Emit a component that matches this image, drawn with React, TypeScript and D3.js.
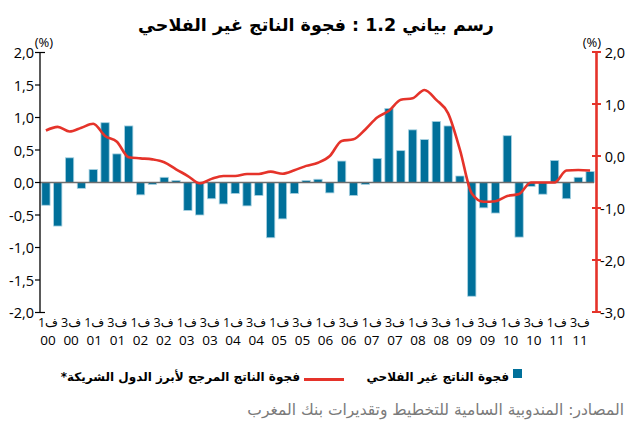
import React from 'react'
import * as d3 from 'd3'

// quarters 2000 Q1 .. 2011 Q3
const years = ['00', '01', '02', '03', '04', '05', '06', '07', '08', '09', '10', '11']
const quarterNames = ['1', '2', '3', '4']
const quarters = years.flatMap(y => quarterNames.map(q => `${y}-${q}`)).slice(0, 47)

// axis labels under the bars (every other quarter)
const tickQuarters = ['ف1', 'ف3']
const tickLabels = years.flatMap(y => tickQuarters.map(q => ({ q, y })))

// non-agricultural output gap (left axis, bars)
const gapValues = [
  -0.35, -0.67, 0.38, -0.09, 0.20, 0.92, 0.44, 0.87,
  -0.19, -0.03, 0.08, 0.03, -0.43, -0.50, -0.25, -0.33,
  -0.17, -0.36, -0.20, -0.85, -0.56, -0.17, 0.03, 0.05,
  -0.16, 0.33, -0.20, -0.03, 0.37, 1.14, 0.49, 0.81,
  0.66, 0.94, 0.87, 0.10, -1.75, -0.39, -0.47, 0.72,
  -0.84, -0.06, -0.18, 0.34, -0.25, 0.08, 0.17,
]

// weighted output gap of main partners (right axis, red line)
const partnerGap = [
  0.49, 0.56, 0.47, 0.545, 0.62, 0.385, 0.275, -0.025,
  -0.045, -0.065, -0.12, -0.255, -0.385, -0.525, -0.44, -0.385,
  -0.385, -0.345, -0.345, -0.30, -0.34, -0.275, -0.19, -0.13,
  0.0, 0.29, 0.32, 0.51, 0.74, 0.87, 1.08, 1.11,
  1.27, 1.08, 0.82, 0.12, -0.72, -0.88, -0.87, -0.77,
  -0.73, -0.51, -0.51, -0.51, -0.28, -0.27, -0.28,
]

const leftTicks = [-2, -1.5, -1, -0.5, 0, 0.5, 1, 1.5, 2]
const rightTicks = [-3, -2, -1, 0, 1, 2]

const title = 'رسم بياني 1.2 : فجوة الناتج غير الفلاحي'
const legendBars = 'فجوة الناتج غير الفلاحي'
const legendLine = 'فجوة الناتج المرجح لأبرز الدول الشريكة*\u200F'
const source = 'المصادر: المندوبية السامية للتخطيط وتقديرات بنك المغرب'

const BLUE = '#00709a'
const RED = '#e5332a'
const numFont = '"Open Sans", "DejaVu Sans", sans-serif'
const arFont = '"DejaVu Sans", sans-serif'

const fmt = (v: number) => d3.format('.1f')(v).replace('.', ',').replace('−', '-')

export default function App() {
  const width = 627
  const height = 425

  const x = d3.scaleBand<string>().domain(quarters).range([40, 596]).paddingInner(0.3).paddingOuter(0.15)
  const yL = d3.scaleLinear().domain([-2, 2]).range([312.5, 52.5])
  const yR = d3.scaleLinear().domain([-3, 2]).range([312, 52])
  const labelX = d3.scalePoint<number>().domain(d3.range(tickLabels.length)).range([48, 580])

  const line = d3.line<number>()
    .x((d, i) => (x(quarters[i]) ?? 0) + x.bandwidth() / 2)
    .y(d => yR(d))
    .curve(d3.curveMonotoneX)

  return (
    <svg width={width} height={height} style={{ position: 'absolute', left: 0, top: 0, background: '#fff' }}>
      <text x={316} y={31} textAnchor='middle' fontFamily={arFont} fontWeight='bold' fontSize={17.5}>{title}</text>

      {/* bars */}
      {gapValues.map((v, i) => (
        <rect
          key={i}
          x={x(quarters[i])}
          y={Math.min(yL(v), yL(0))}
          width={x.bandwidth()}
          height={Math.abs(yL(v) - yL(0))}
          fill={BLUE}
          stroke='#a8d2e2'
          strokeWidth={0.8}
        />
      ))}
      <line x1={40} x2={594} y1={yL(0)} y2={yL(0)} stroke='#6d6d6d' strokeWidth={1.6} />

      {/* left axis */}
      <line x1={40} x2={40} y1={yL(2)} y2={yL(-2)} stroke='#000' strokeWidth={1.3} />
      {leftTicks.map(t => (
        <g key={t}>
          <line x1={35} x2={Math.abs(t) === 2 ? 45 : 40} y1={yL(t)} y2={yL(t)} stroke='#000' strokeWidth={1.2} />
          <text x={34} y={yL(t)} dy='0.38em' textAnchor='end' fontFamily={numFont} fontSize={14.5}>{fmt(t)}</text>
        </g>
      ))}
      <text x={44} y={47} textAnchor='middle' fontFamily={numFont} fontSize={13}>(%)</text>

      {/* right axis */}
      <line x1={596.5} x2={596.5} y1={yR(2)} y2={yR(-3)} stroke={RED} strokeWidth={2.6} />
      {rightTicks.map(t => (
        <g key={t}>
          <line x1={592} x2={601} y1={yR(t)} y2={yR(t)} stroke={RED} strokeWidth={2} />
          <text x={625} y={yR(t)} dy='0.38em' textAnchor='end' fontFamily={numFont} fontSize={14.5}>{fmt(t)}</text>
        </g>
      ))}
      <text x={592} y={47} textAnchor='middle' fontFamily={numFont} fontSize={13}>(%)</text>

      {/* red line */}
      <path d={line(partnerGap) ?? ''} fill='none' stroke={RED} strokeWidth={2.6} strokeLinejoin='round' />

      {/* x labels */}
      {tickLabels.map((l, i) => (
        <g key={i}>
          <text x={labelX(i)} y={327} textAnchor='middle' fontFamily={numFont} fontSize={12.5}>{l.q}</text>
          <text x={labelX(i)} y={345} textAnchor='middle' fontFamily={numFont} fontSize={13.5}>{l.y}</text>
        </g>
      ))}

      {/* legend */}
      <rect x={513} y={369} width={9} height={9} fill={BLUE} />
      <text x={509} y={381} textAnchor='end' fontFamily={arFont} fontWeight='bold' fontSize={12}>{legendBars}</text>
      <line x1={304} x2={344} y1={379.5} y2={379.5} stroke={RED} strokeWidth={3} />
      <text x={300} y={381} textAnchor='end' fontFamily={arFont} fontWeight='bold' fontSize={12}>{legendLine}</text>

      <text x={624} y={415} textAnchor='end' fontFamily={arFont} fontSize={15.5} fill='#7a7a7a'>{source}</text>
    </svg>
  )
}
